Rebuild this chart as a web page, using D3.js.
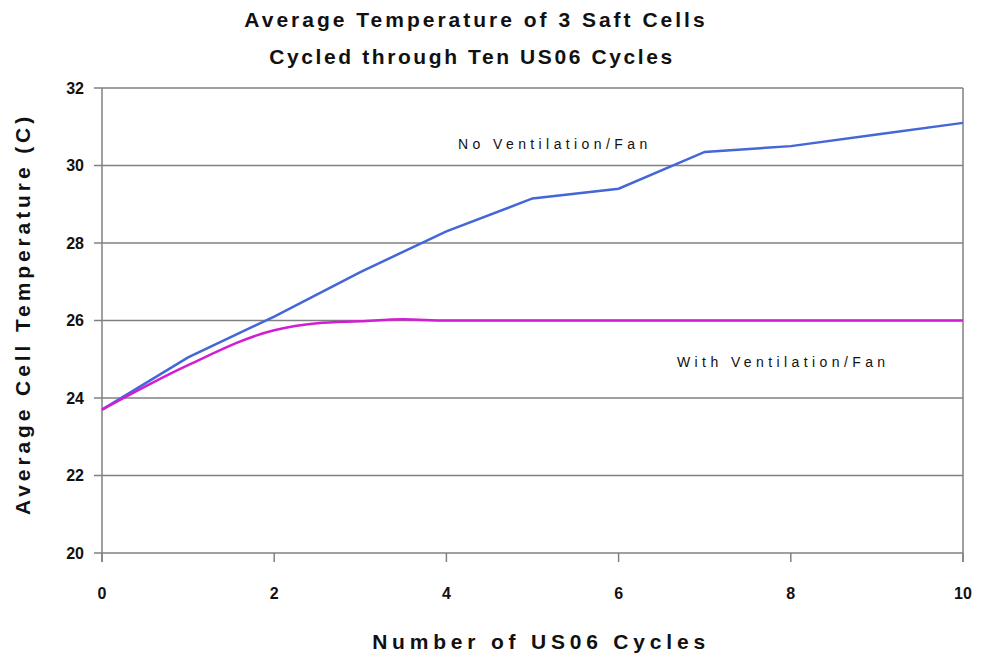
<!DOCTYPE html>
<html>
<head>
<meta charset="utf-8">
<script src="https://cdn.jsdelivr.net/npm/d3@7"></script>
<style>
  body { margin: 0; background: #fff; }
  text { font-family: "Liberation Sans", Arial, sans-serif; fill: #111; }
</style>
</head>
<body>
<svg id="chart" width="981" height="660"></svg>
<script>
// cycles and average temperatures
const noFanCycles = [0, 1, 2, 3, 4, 5, 6, 7, 8, 9, 10];
const noFanTemp = [23.7, 25.05, 26.1, 27.25, 28.3, 29.15, 29.4, 30.35, 30.5, 30.8, 31.1];

const fanCycles = [0, 1, 2, 2.5, 3, 3.5, 4, 5, 6, 7, 8, 9, 10];
const fanTemp = [23.7, 24.85, 25.75, 25.93, 25.98, 26.03, 26.0, 26.0, 26.0, 26.0, 26.0, 26.0, 26.0];

const xTicks = [0, 2, 4, 6, 8, 10];
const yTicks = [20, 22, 24, 26, 28, 30, 32];

const svg = d3.select("#chart");
const margin = { left: 102, right: 18, top: 88, bottom: 107 };
const W = 981, H = 660;

const x = d3.scaleLinear().domain([0, 10]).range([margin.left, W - margin.right]);
const y = d3.scaleLinear().domain([20, 32]).range([H - margin.bottom, margin.top]);

// title
svg.append("text").attr("x", 476).attr("y", 27).attr("text-anchor", "middle")
  .style("font-size", "21px").style("font-weight", "bold").style("letter-spacing", "3px")
  .text("Average Temperature of 3 Saft Cells");
svg.append("text").attr("x", 472).attr("y", 64).attr("text-anchor", "middle")
  .style("font-size", "21px").style("font-weight", "bold").style("letter-spacing", "2.6px")
  .text("Cycled through Ten US06 Cycles");

// gridlines + y ticks
svg.append("g").selectAll("line").data(yTicks).join("line")
  .attr("x1", margin.left - 8).attr("x2", x(10))
  .attr("y1", d => y(d)).attr("y2", d => y(d))
  .attr("stroke", "#808080").attr("stroke-width", 1.5);

// frame
svg.append("line").attr("x1", x(0)).attr("x2", x(0)).attr("y1", y(32)).attr("y2", y(20) + 9)
  .attr("stroke", "#808080").attr("stroke-width", 1.5);
svg.append("line").attr("x1", x(10)).attr("x2", x(10)).attr("y1", y(32)).attr("y2", y(20) + 9)
  .attr("stroke", "#808080").attr("stroke-width", 1.5);

// x ticks
svg.append("g").selectAll("line").data(xTicks).join("line")
  .attr("x1", d => x(d)).attr("x2", d => x(d))
  .attr("y1", y(20)).attr("y2", y(20) + 9)
  .attr("stroke", "#808080").attr("stroke-width", 1.5);

svg.append("g").selectAll("text").data(yTicks).join("text")
  .attr("x", 84).attr("y", d => y(d)).attr("dy", "0.35em").attr("text-anchor", "end")
  .style("font-size", "16px").style("font-weight", "bold")
  .text(d => d);

svg.append("g").selectAll("text").data(xTicks).join("text")
  .attr("x", d => x(d)).attr("y", 599).attr("text-anchor", "middle")
  .style("font-size", "16px").style("font-weight", "bold")
  .text(d => d);

// axis titles
svg.append("text").attr("x", 541).attr("y", 649).attr("text-anchor", "middle")
  .style("font-size", "21px").style("font-weight", "bold").style("letter-spacing", "4.8px")
  .text("Number of US06 Cycles");
svg.append("text").attr("transform", "translate(30,314) rotate(-90)").attr("text-anchor", "middle")
  .style("font-size", "21px").style("font-weight", "bold").style("letter-spacing", "3.9px")
  .text("Average Cell Temperature (C)");

// lines
const lineNoFan = d3.line().x((d, i) => x(noFanCycles[i])).y(d => y(d));
svg.append("path").datum(noFanTemp).attr("d", lineNoFan)
  .attr("fill", "none").attr("stroke", "#4466d6").attr("stroke-width", 2.5);

const lineFan = d3.line().x((d, i) => x(fanCycles[i])).y(d => y(d)).curve(d3.curveMonotoneX);
svg.append("path").datum(fanTemp).attr("d", lineFan)
  .attr("fill", "none").attr("stroke", "#d21ed2").attr("stroke-width", 2.5);

// annotations
svg.append("text").attr("x", 458).attr("y", 149)
  .style("font-size", "14px").style("letter-spacing", "4.4px")
  .text("No Ventilation/Fan");
svg.append("text").attr("x", 677).attr("y", 367)
  .style("font-size", "14px").style("letter-spacing", "4.4px")
  .text("With Ventilation/Fan");
</script>
</body>
</html>
